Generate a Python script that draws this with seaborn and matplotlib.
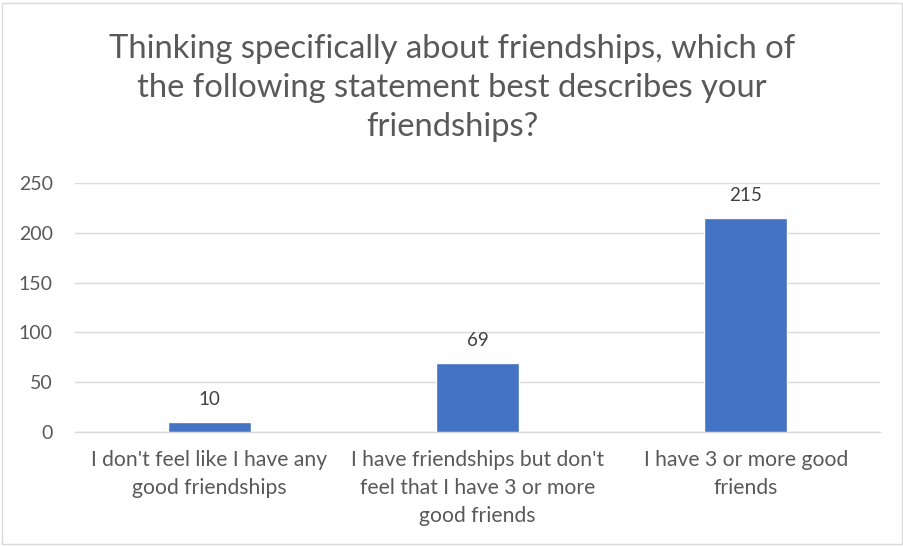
import matplotlib
matplotlib.use("Agg")
import matplotlib.pyplot as plt
import seaborn as sns
import pandas as pd
from matplotlib.patches import Rectangle

categories = [
    "I don't feel like I have any\ngood friendships",
    "I have friendships but don't\nfeel that I have 3 or more\ngood friends",
    "I have 3 or more good\nfriends",
]
counts = [10, 69, 215]
yticks = [0, 50, 100, 150, 200, 250]
title = ("Thinking specifically about friendships, which of\n"
         "the following statement best describes your\n"
         "friendships?")

sns.set_theme(style="white")
plt.rcParams["font.family"] = ["Lato", "DejaVu Sans"]

df = pd.DataFrame({"category": categories, "count": counts})

fig = plt.figure(figsize=(9.04, 5.46), dpi=100)
ax = fig.add_axes([75 / 904, 1 - 432 / 546, 805 / 904, 249 / 546])

sns.barplot(data=df, x="category", y="count", color="#4472C4",
            width=0.31, saturation=1, ax=ax, zorder=3)

ax.set_ylim(0, 250)
ax.set_yticks(yticks)
ax.set_yticklabels([str(v) for v in yticks], fontsize=14, color="#595959")
ax.set_xlim(-0.5, 2.5)
ax.tick_params(axis="x", labelsize=15.2, colors="#595959", length=0, pad=13)
ax.tick_params(axis="y", length=0, pad=16)
for lbl in ax.get_xticklabels():
    lbl.set_linespacing(1.5)
ax.grid(axis="y", color="#D9D9D9", linewidth=1, zorder=0)
ax.set_xlabel("")
ax.set_ylabel("")
for side in ["top", "right", "left"]:
    ax.spines[side].set_visible(False)
ax.spines["bottom"].set_color("#D9D9D9")
ax.spines["bottom"].set_linewidth(1)

for i, v in enumerate(counts):
    ax.annotate(str(v), (i, v), xytext=(0, 10), textcoords="offset points",
                ha="center", va="bottom", fontsize=13.5, color="#404040")

fig.text(0.5, 1 - 88 / 546, title, ha="center", va="center",
         fontsize=23.6, color="#595959", linespacing=1.38)

fig.patches.append(Rectangle((2 / 904, 2 / 546), 900 / 904, 541 / 546,
                             transform=fig.transFigure, fill=False,
                             edgecolor="#D9D9D9", linewidth=1))

fig.savefig("out.png", dpi=100)
